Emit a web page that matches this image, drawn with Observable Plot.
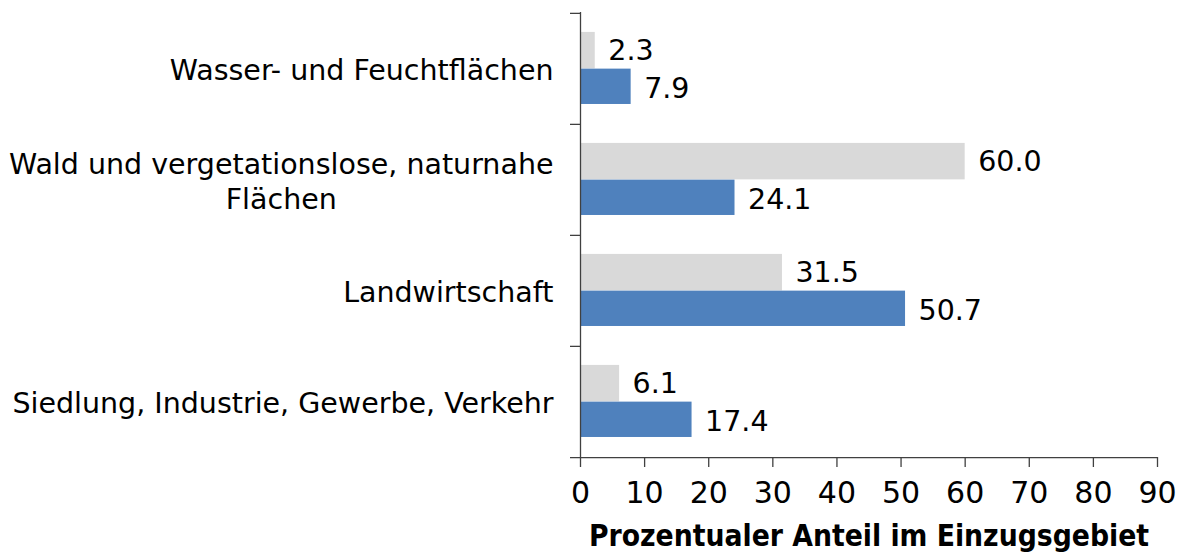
<!DOCTYPE html>
<html>
<head>
<meta charset="utf-8">
<script src="https://cdn.jsdelivr.net/npm/d3@7"></script>
<script src="https://cdn.jsdelivr.net/npm/@observablehq/plot@0.6"></script>
<style>
  html, body { margin: 0; padding: 0; background: #fff; }
  #chart svg { display: block; }
</style>
</head>
<body>
<div id="chart"></div>
<script>
// ---- data ----
const categories = [
  "Wasser- und Feuchtflächen",
  "Wald und vergetationslose, naturnahe\nFlächen",
  "Landwirtschaft",
  "Siedlung, Industrie, Gewerbe, Verkehr"
];
const greyValues = [2.3, 60.0, 31.5, 6.1];
const blueValues = [7.9, 24.1, 50.7, 17.4];
const xTicks = [0, 10, 20, 30, 40, 50, 60, 70, 80, 90];
const xTitle = "Prozentualer Anteil im Einzugsgebiet";

// ---- layout ----
const W = 1184, H = 554;
const mLeft = 580, mRight = 27, mTop = 12, mBottom = 97;
const bw = (H - mTop - mBottom) / categories.length;
const frameW = W - mLeft - mRight;
const axisColor = "#404040";
const font = "DejaVu Sans";

const grey = categories.map((c, i) => ({cat: c, value: greyValues[i]}));
const blue = categories.map((c, i) => ({cat: c, value: blueValues[i]}));
const fmt = d3.format(".1f");

const chart = Plot.plot({
  width: W,
  height: H,
  marginLeft: mLeft,
  marginRight: mRight,
  marginTop: mTop,
  marginBottom: mBottom,
  style: {fontFamily: font, fontSize: "28.5px", color: "#000", background: "#fff"},
  x: {domain: [0, 90], ticks: xTicks},
  y: {domain: categories, padding: 0},
  marks: [
    Plot.barX(grey, {x: "value", y: "cat", fill: "#d9d9d9", insetTop: 0.17 * bw, insetBottom: 0.5 * bw}),
    Plot.barX(blue, {x: "value", y: "cat", fill: "#4f81bd", insetTop: 0.5 * bw, insetBottom: 0.18 * bw}),
    Plot.text(grey, {x: "value", y: "cat", text: d => fmt(d.value), textAnchor: "start", dx: 13, dy: -bw * 0.16, fontSize: 28.5, fill: "#000"}),
    Plot.text(blue, {x: "value", y: "cat", text: d => fmt(d.value), textAnchor: "start", dx: 13, dy: bw * 0.175, fontSize: 28.5, fill: "#000"}),
    // y axis line
    Plot.ruleX([0], {stroke: axisColor, strokeWidth: 1.3}),
    // category boundary ticks
    Plot.ruleY(categories, {y: d => d, dy: -bw / 2, insetLeft: -10, insetRight: frameW, stroke: axisColor, strokeWidth: 1.3}),
    // x axis line (bottom boundary)
    Plot.ruleY([categories[categories.length - 1]], {y: d => d, dy: bw / 2, insetLeft: -10, stroke: axisColor, strokeWidth: 1.3}),
    Plot.axisX({ticks: xTicks, tickSize: 10, tickPadding: 14, stroke: axisColor, strokeWidth: 1.3, label: null, fontSize: 30, fill: "#000"}),
    Plot.axisY({tickSize: 0, tickPadding: 27, label: null, lineHeight: 1.22, fontSize: 28.5, fill: "#000", textOverflow: null}),
    Plot.text([xTitle], {frameAnchor: "bottom", lineAnchor: "bottom", dy: 88, fontWeight: "bold", fontSize: 29.7, fontFamily: "'DejaVu Sans Condensed', 'DejaVu Sans'", fontStretch: "condensed", fill: "#000"})
  ]
});

document.getElementById("chart").appendChild(chart);

// Multi-line category labels: centre the lines within a right-aligned block
chart.querySelectorAll('g[aria-label="y-axis tick label"] text').forEach(t => {
  const spans = t.querySelectorAll("tspan");
  if (spans.length < 2) return;
  const w = Math.max(...Array.from(spans, s => s.getComputedTextLength()));
  t.setAttribute("text-anchor", "middle");
  spans.forEach(s => s.setAttribute("x", -w / 2));
});
</script>
</body>
</html>
